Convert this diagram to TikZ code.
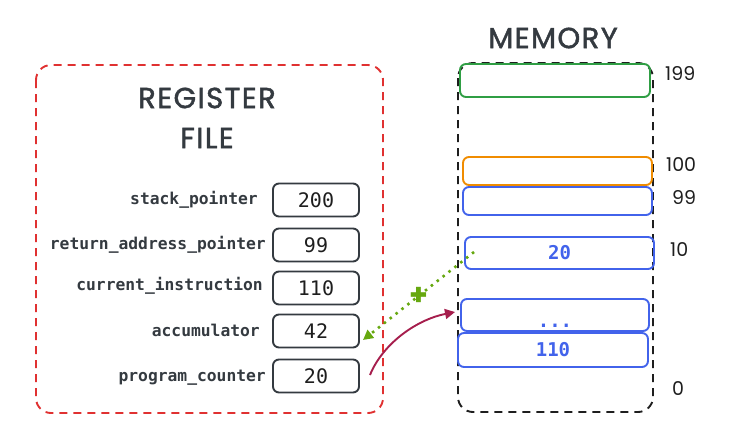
\documentclass[tikz,border=0pt]{standalone}
\usepackage{fontspec}
\setmainfont{Fira Sans}
\newfontfamily\monof{DejaVu Sans Mono}
\newfontfamily\handf{Poppins}
\newfontfamily\titlefont[LetterSpace=5,FakeBold=1.6]{Poppins}
\usetikzlibrary{arrows.meta}
\definecolor{boxgray}{HTML}{343A40}
\definecolor{txtgray}{HTML}{343A40}
\definecolor{exred}{HTML}{E03131}
\definecolor{exgreen}{HTML}{2F9E44}
\definecolor{exorange}{HTML}{F08C00}
\definecolor{exblue}{HTML}{4263EB}
\definecolor{exlime}{HTML}{66A80F}
\definecolor{excrimson}{HTML}{A61E4D}
\definecolor{exblack}{HTML}{1E1E1E}
\tikzset{
  regbox/.style={draw=boxgray, line width=1.9pt, rounded corners=6pt, inner sep=0pt, outer sep=0pt,
    minimum width=86pt, minimum height=33pt, text=exblack, font=\monof\fontsize{20}{22}\selectfont},
  reglabel/.style={anchor=east, inner sep=0pt, text=txtgray, font=\monof\bfseries\fontsize{16.3}{17}\selectfont},
  memcell/.style={line width=1.9pt, rounded corners=6pt, inner sep=0pt, outer sep=0pt,
    text=exblue, font=\monof\bfseries\fontsize{19}{22}\selectfont},
  memlabel/.style={anchor=west, inner sep=0pt, text=exblack, font=\handf\fontsize{19}{22}\selectfont},
  titlef/.style={inner sep=0pt, text=txtgray, font=\titlefont\fontsize{29}{36}\selectfont},
  greenarrow/.style={draw=exlime, line width=2.6pt, dash pattern=on 2.5pt off 5pt, -{Triangle[length=10pt,width=10pt,fill=exlime]}},
  redarrow/.style={draw=excrimson, line width=1.9pt, -{Triangle[length=10pt,width=10pt,fill=excrimson]}},
}
\begin{document}
\begin{tikzpicture}[x=1pt,y=-1pt]
\useasboundingbox (0,0) rectangle (733,445);
% register file frame
\draw[exred, line width=1.9pt, dash pattern=on 8pt off 6pt, rounded corners=15pt] (36,65) rectangle (383,413);
\node[titlef] (regtitle1) at (207,98) {REGISTER};
\node[titlef] (regtitle2) at (207,138) {FILE};
% register boxes
\node[regbox] (rsp) at (316,200) {200};
\node[regbox] (rra) at (316,245) {99};
\node[regbox] (rci) at (316,288) {110};
\node[regbox] (racc) at (316,331) {42};
\node[regbox] (rpc) at (316,376) {20};
\node[reglabel] (lsp) at (258,200) {stack\_pointer};
\node[reglabel] (lra) at (266,245) {return\_address\_pointer};
\node[reglabel] (lci) at (263,286) {current\_instruction};
\node[reglabel] (lacc) at (260,330) {accumulator};
\node[reglabel] (lpc) at (266,378) {program\_counter};
% memory
\node[titlef] (memtitle) at (553,38) {MEMORY};
\draw[exblack, line width=1.9pt, dash pattern=on 8pt off 6pt, rounded corners=15pt] (458,63) rectangle (653,412);
\node[memcell, draw=exgreen, minimum width=190pt, minimum height=33pt] (m199) at (555,80.5) {};
\node[memcell, draw=exorange, minimum width=189pt, minimum height=28pt] (m100) at (557.5,171) {};
\node[memcell, draw=exblue, minimum width=189pt, minimum height=28pt] (m99) at (557.5,201) {};
\node[memcell, draw=exblue, minimum width=189pt, minimum height=32pt] (m10) at (559.5,253) {20};
\node[memcell, draw=exblue, minimum width=188pt, minimum height=32pt, text height=5pt, text depth=5pt] (mdots) at (555,315) {\raisebox{-12pt}{...}};
\node[memcell, draw=exblue, minimum width=190pt, minimum height=34pt] (m1) at (553,350) {110};
\node[memlabel] (a199) at (665,74) {199};
\node[memlabel] (a100) at (666,165) {100};
\node[memlabel] (a99) at (672,198) {99};
\node[memlabel] (a10) at (670,250) {10};
\node[memlabel] (a0) at (672,389) {0};
% connectors
\coordinate (gstart) at (474,252);
\draw[greenarrow] (gstart) -- ([xshift=4pt,yshift=-9pt]racc.east) node[midway, text=exlime, font=\handf\bfseries\fontsize{30}{30}\selectfont, inner sep=0pt] (plus) {+};
\draw[redarrow] ([xshift=11pt,yshift=1pt]rpc.east) .. controls +(12,-30) and +(-40,8) .. ([xshift=-6pt,yshift=3pt]mdots.west);
\end{tikzpicture}
\end{document}
